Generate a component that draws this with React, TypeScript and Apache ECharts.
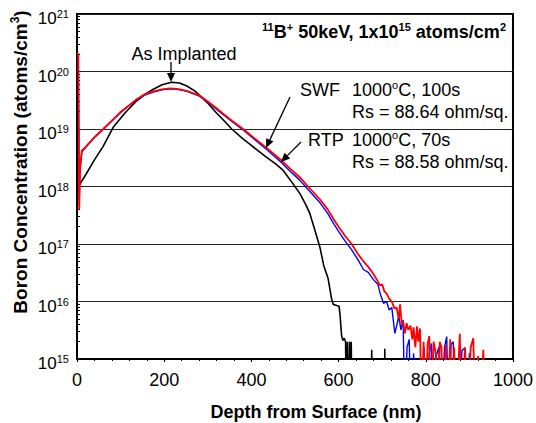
import React, { useEffect, useRef } from "react";
import * as echarts from "echarts";

const FONT = "'Liberation Sans', Arial, Helvetica, sans-serif";

// X axis (depth, nm)
const xMin = 0;
const xMax = 1000;
const xInterval = 200;
// Y axis (concentration, atoms/cm3) decades
const yDecades = [1e15, 1e16, 1e17, 1e18, 1e19, 1e20, 1e21];

// As Implanted (black)
const implantDepth = [1, 5, 20, 40, 60, 83, 110, 137, 160, 175, 195, 217, 235, 252, 270, 282, 300, 320, 339, 355, 380, 397, 415, 435, 455, 473, 496, 511, 525, 534, 545, 557, 566, 576, 584, 588, 596, 601, 603, 607, 610, 613, 616, 618, 620, 622, 625, 627, 629, 631, 675, 676, 677, 705, 706, 707, 720];
const implantConc = [7.9e17, 1.05e18, 1.6e18, 2.9e18, 5.0e18, 1.07e19, 1.9e19, 3.1e19, 4.2e19, 4.9e19, 5.9e19, 6.5e19, 6.3e19, 5.6e19, 4.6e19, 3.8e19, 2.8e19, 1.9e19, 1.35e19, 1.0e19, 6.8e18, 5.4e18, 4.2e18, 3.2e18, 2.5e18, 1.9e18, 1.1e18, 7.6e17, 4.8e17, 3.4e17, 1.8e17, 8.9e16, 4.2e16, 2.5e16, 1.1e16, 8.9e15, 8.5e15, 8.3e15, 6.3e15, 2.5e15, 2.1e15, 2.3e15, 2.0e15, 1e14, 2e15, 1e14, 2e15, 1e14, 2e15, 1e14, 1e14, 1.45e15, 1e14, 1e14, 1.5e15, 1e14, 1e14];

// SWF 1000C, 100s (red)
const swfDepth = [0, 3, 4, 5, 7, 11, 22, 40, 60, 80, 99, 120, 137, 155, 175, 195, 213, 230, 252, 270, 282, 300, 320, 350, 381, 408, 435, 470, 490, 511, 530, 557, 575, 588, 600, 615, 630, 645, 657, 668, 680, 690, 695, 700, 705, 710, 716, 722, 728, 733, 738, 741, 745, 748, 752, 756, 760, 765, 769, 772, 776, 780, 783, 787, 790, 795, 800, 804, 808, 812, 818, 823, 827, 832, 836, 840, 846, 850, 856, 860, 865, 870, 878, 882, 890, 895, 903, 909, 913, 920, 925, 932, 935];
const swfConc = [2.1e20, 2.0e20, 1.0e19, 4.0e17, 2.0e18, 4.2e18, 5.1e18, 7.2e18, 1.0e19, 1.4e19, 1.95e19, 2.6e19, 3.3e19, 4.0e19, 4.5e19, 4.9e19, 5.1e19, 5.0e19, 4.6e19, 4.1e19, 3.8e19, 3.0e19, 2.3e19, 1.5e19, 1.0e19, 6.8e18, 4.7e18, 2.8e18, 2.0e18, 1.45e18, 1.0e18, 6.0e17, 4.0e17, 2.75e17, 2.0e17, 1.38e17, 1.0e17, 6.6e16, 5.0e16, 4.0e16, 3.0e16, 2.24e16, 1.9e16, 2.0e16, 1.5e16, 1.38e16, 1.12e16, 1.0e16, 7.6e15, 7.9e15, 5.0e15, 8.9e15, 4.0e15, 4.5e15, 2.8e15, 4.2e15, 3.2e15, 3.8e15, 2.2e15, 3.55e15, 1.6e15, 3.7e15, 2.0e15, 3.4e15, 1e14, 2.0e15, 1e14, 1.8e15, 2.5e15, 1e14, 2.0e15, 1.26e15, 1e14, 2.0e15, 1.6e15, 1e14, 1.8e15, 1e14, 2.2e15, 1e14, 1.6e15, 1e14, 2.75e15, 1e14, 1.6e15, 1e14, 1.6e15, 2.3e15, 1e14, 1.12e15, 1e14, 1.45e15, 1e14];

// RTP 1000C, 70s (blue)
const rtpDepth = [0, 3, 4, 5, 7, 11, 22, 40, 60, 80, 99, 120, 137, 155, 175, 195, 213, 230, 252, 270, 282, 300, 320, 350, 381, 408, 435, 470, 490, 511, 530, 557, 575, 588, 600, 615, 630, 645, 657, 668, 680, 690, 695, 703, 710, 716, 722, 729, 734, 738, 743, 748, 752, 757, 762, 766, 772, 778, 790, 796, 800, 808, 813, 818, 824, 830, 835, 843, 848, 852, 858, 863, 867, 875, 883, 890, 895, 900, 903];
const rtpConc = [1.6e20, 1.26e20, 1.0e19, 5.0e17, 2.0e18, 4.0e18, 5.0e18, 7.1e18, 9.8e18, 1.38e19, 1.9e19, 2.57e19, 3.24e19, 3.9e19, 4.4e19, 4.8e19, 5.0e19, 4.9e19, 4.5e19, 4.0e19, 3.7e19, 2.9e19, 2.2e19, 1.45e19, 9.6e18, 6.5e18, 4.4e18, 2.57e18, 1.8e18, 1.29e18, 8.9e17, 5.25e17, 3.4e17, 2.3e17, 1.66e17, 1.12e17, 7.9e16, 5.25e16, 3.6e16, 3.2e16, 2.4e16, 2.0e16, 1.41e16, 9.3e15, 1.0e16, 7.1e15, 7.9e15, 2.8e15, 4.0e15, 5.6e15, 3.2e15, 4.8e15, 1e14, 1.6e15, 2.2e15, 1e14, 1.26e15, 1e14, 1e14, 1.6e15, 1e14, 1.26e15, 1.86e15, 1e14, 1.12e15, 1.6e15, 1e14, 1.6e15, 2.45e15, 1e14, 1.8e15, 2.0e15, 1e14, 1e14, 1.41e15, 1.55e15, 1e14, 1.26e15, 1e14];

const zip = (xs: number[], ys: number[]) => xs.map((x, i) => [x, ys[i]]);

// minor tick positions on log axis (2..9 x each decade)
const minorTickValues: number[] = [];
for (let i = 0; i < yDecades.length - 1; i++) {
  for (let m = 2; m <= 9; m++) minorTickValues.push(m * yDecades[i]);
}

const supRich = (size: number, bold = false) => ({
  b: { fontSize: size, fontFamily: FONT, fontWeight: bold ? "bold" : "normal", color: "#000", lineHeight: size + 4 },
  s: { fontSize: Math.round(size * 0.62), fontFamily: FONT, fontWeight: bold ? "bold" : "normal", color: "#000", lineHeight: Math.round(size * 0.62), verticalAlign: "top" },
});

function arrow(x1: number, y1: number, x2: number, y2: number) {
  const dx = x2 - x1, dy = y2 - y1;
  const len = Math.sqrt(dx * dx + dy * dy);
  const ux = dx / len, uy = dy / len;
  const hl = 9, hw = 4;
  const bx = x2 - ux * hl, by = y2 - uy * hl;
  return [
    { type: "line", shape: { x1, y1, x2: bx, y2: by }, style: { stroke: "#000", lineWidth: 1.3 }, z: 100 },
    {
      type: "polygon",
      shape: { points: [[x2, y2], [bx - uy * hw, by + ux * hw], [bx + uy * hw, by - ux * hw]] },
      style: { fill: "#000" },
      z: 100,
    },
  ];
}

function txt(x: number, y: number, text: string, align: string, size = 18, bold = false) {
  return {
    type: "text",
    x,
    y,
    z: 100,
    style: { text, align, verticalAlign: "middle", rich: supRich(size, bold), fill: "#000" },
  };
}

export default function App() {
  const ref = useRef<HTMLDivElement>(null);
  useEffect(() => {
    const chart = echarts.init(ref.current!, null, { renderer: "svg" });
    const option: any = {
      animation: false,
      backgroundColor: "#fff",
      textStyle: { fontFamily: FONT },
      grid: { left: 77, right: 23, top: 14, bottom: 64, show: true, borderColor: "#000", borderWidth: 2, backgroundColor: "transparent" },
      xAxis: {
        type: "value",
        min: xMin,
        max: xMax,
        interval: xInterval,
        axisLine: { show: true, lineStyle: { color: "#000", width: 2 } },
        axisTick: { show: true, inside: false, length: 3, lineStyle: { color: "#000", width: 1.2 } },
        minorTick: { show: true, splitNumber: 5, length: 2, lineStyle: { color: "#000", width: 1 } },
        splitLine: { show: false },
        axisLabel: { color: "#000", fontSize: 18, fontFamily: FONT, margin: 12, formatter: (v: number) => String(v) },
      },
      yAxis: [
        {
          type: "log",
          logBase: 10,
          min: 1e15,
          max: 1e21,
          splitNumber: 6,
          axisLine: { show: true, lineStyle: { color: "#000", width: 2 } },
          axisTick: { show: false },
          splitLine: { show: true, lineStyle: { color: "#222", width: 1.2 } },
          axisLabel: {
            margin: 8,
            padding: [9, 0, 0, 0],
            formatter: (v: number) => "{b|10}{s|" + Math.round(Math.log10(v)) + "}",
            rich: {
              b: { fontSize: 17, fontFamily: FONT, color: "#000", lineHeight: 20 },
              s: { fontSize: 11, fontFamily: FONT, color: "#000", lineHeight: 11, verticalAlign: "top" },
            },
          },
        },
        {
          type: "log",
          logBase: 10,
          min: 1e15,
          max: 1e21,
          position: "left",
          axisLine: { show: false },
          axisLabel: { show: false },
          splitLine: { show: false },
          axisTick: { show: true, inside: true, length: 3, customValues: minorTickValues, lineStyle: { color: "#000", width: 1 } },
        },
      ],
      series: [
        {
          name: "As Implanted",
          type: "line",
          data: zip(implantDepth, implantConc),
          showSymbol: false,
          symbol: "none",
          lineStyle: { color: "#000", width: 1.6 },
          z: 2,
        },
        {
          name: "RTP 1000C, 70s",
          type: "line",
          data: zip(rtpDepth, rtpConc),
          showSymbol: false,
          symbol: "none",
          lineStyle: { color: "#0000ff", width: 1.4 },
          z: 3,
        },
        {
          name: "SWF 1000C, 100s",
          type: "line",
          data: zip(swfDepth, swfConc),
          showSymbol: false,
          symbol: "none",
          lineStyle: { color: "#ff0000", width: 1.8 },
          z: 4,
        },
      ],
      graphic: [
        txt(506, 32, "{s|11}{b|B}{s|+}{b| 50keV, 1x10}{s|15}{b| atoms/cm}{s|2}", "right", 18, true),
        txt(184, 54, "{b|As Implanted}", "center"),
        ...arrow(171, 62, 171, 82),
        txt(300, 90, "{b|SWF}", "left"),
        txt(352, 90, "{b|1000}{s|o}{b|C, 100s}", "left"),
        txt(352, 112, "{b|Rs = 88.64 ohm/sq.}", "left"),
        ...arrow(290, 97, 266, 148),
        txt(308, 140, "{b|RTP}", "left"),
        txt(352, 140, "{b|1000}{s|o}{b|C, 70s}", "left"),
        txt(352, 162, "{b|Rs = 88.58 ohm/sq.}", "left"),
        ...arrow(301, 142, 281, 162),
        txt(316, 412, "{b|Depth from Surface (nm)}", "center", 18, true),
        {
          type: "text",
          x: 20,
          y: 162,
          rotation: Math.PI / 2,
          z: 100,
          style: {
            text: "{b|Boron Concentration (atoms/cm}{s|3}{b|)}",
            align: "center",
            verticalAlign: "middle",
            rich: supRich(19, true),
            fill: "#000",
          },
        },
      ],
    };
    chart.setOption(option);
    return () => chart.dispose();
  }, []);
  return <div ref={ref} style={{ position: "fixed", left: 0, top: 0, width: 536, height: 423 }} />;
}
